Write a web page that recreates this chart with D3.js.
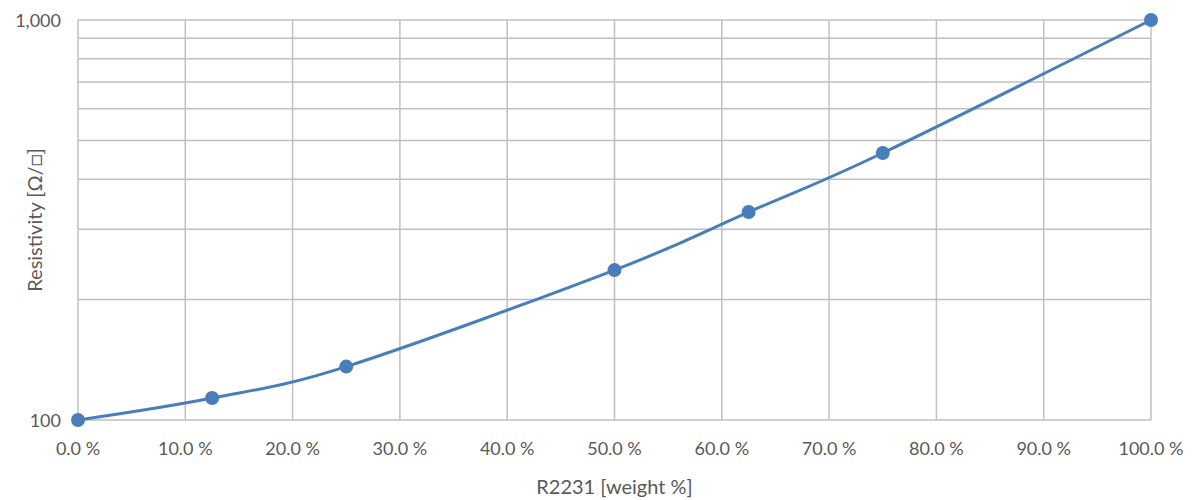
<!DOCTYPE html>
<html>
<head>
<meta charset="utf-8">
<script src="https://cdn.jsdelivr.net/npm/d3@7"></script>
<style>
  html, body { margin: 0; padding: 0; background: #fff; }
  svg { display: block; }
  text { font-family: Lato, "Open Sans", "Noto Sans", sans-serif; fill: #595959; }
</style>
</head>
<body>
<svg id="chart" width="1194" height="500"></svg>
<script>
// Sheet resistivity versus R2231 content
const weightPct = [0, 12.5, 25, 50, 62.5, 75, 100];
const resistivity = [100, 113.5, 136, 237, 331, 465, 1000];
const xTicks = [0, 10, 20, 30, 40, 50, 60, 70, 80, 90, 100];
const yGrid = [100, 200, 300, 400, 500, 600, 700, 800, 900, 1000];
const yLabels = [100, 1000];

const svg = d3.select("#chart");
const plot = { left: 78, right: 1151, top: 20, bottom: 420 };

const x = d3.scaleLinear().domain([0, 100]).range([plot.left, plot.right]);
const y = d3.scaleLog().domain([100, 1000]).range([plot.bottom, plot.top]);

const grid = svg.append("g").attr("stroke", "#c0c0c0").attr("stroke-width", 1.5);

// horizontal gridlines (log minor steps)
grid.selectAll("line.h").data(yGrid).join("line")
  .attr("class", "h")
  .attr("x1", plot.left).attr("x2", plot.right)
  .attr("y1", d => y(d)).attr("y2", d => y(d));

// vertical gridlines
grid.selectAll("line.v").data(xTicks).join("line")
  .attr("class", "v")
  .attr("x1", d => x(d)).attr("x2", d => x(d))
  .attr("y1", plot.top).attr("y2", plot.bottom);

// x tick labels
const fmtPct = d => d.toFixed(1) + " %";
svg.append("g").selectAll("text").data(xTicks).join("text")
  .attr("x", d => x(d)).attr("y", plot.bottom + 35)
  .attr("text-anchor", "middle")
  .attr("font-size", 18)
  .text(fmtPct);

// y tick labels
svg.append("g").selectAll("text").data(yLabels).join("text")
  .attr("x", plot.left - 17).attr("y", d => y(d) + 6.5)
  .attr("text-anchor", "end")
  .attr("font-size", 18)
  .text(d => d3.format(",")(d));

// axis titles
svg.append("text")
  .attr("x", (plot.left + plot.right) / 2).attr("y", 494)
  .attr("text-anchor", "middle")
  .attr("font-size", 20)
  .text("R2231 [weight %]");

svg.append("text")
  .attr("transform", `translate(42, ${(plot.top + plot.bottom) / 2}) rotate(-90)`)
  .attr("text-anchor", "middle")
  .attr("font-size", 20)
  .text("Resistivity [\u03A9/\u25A1]");

// smoothed series line
const pts = weightPct.map((w, i) => [x(w), y(resistivity[i])]);
const line = d3.line().curve(d3.curveCardinal.tension(0));
svg.append("path")
  .attr("d", line(pts))
  .attr("fill", "none")
  .attr("stroke", "#4a7ebb")
  .attr("stroke-width", 3)
  .attr("stroke-linecap", "round");

// markers
svg.append("g").selectAll("circle").data(pts).join("circle")
  .attr("cx", d => d[0]).attr("cy", d => d[1])
  .attr("r", 7)
  .attr("fill", "#4a7ebb");
</script>
</body>
</html>
